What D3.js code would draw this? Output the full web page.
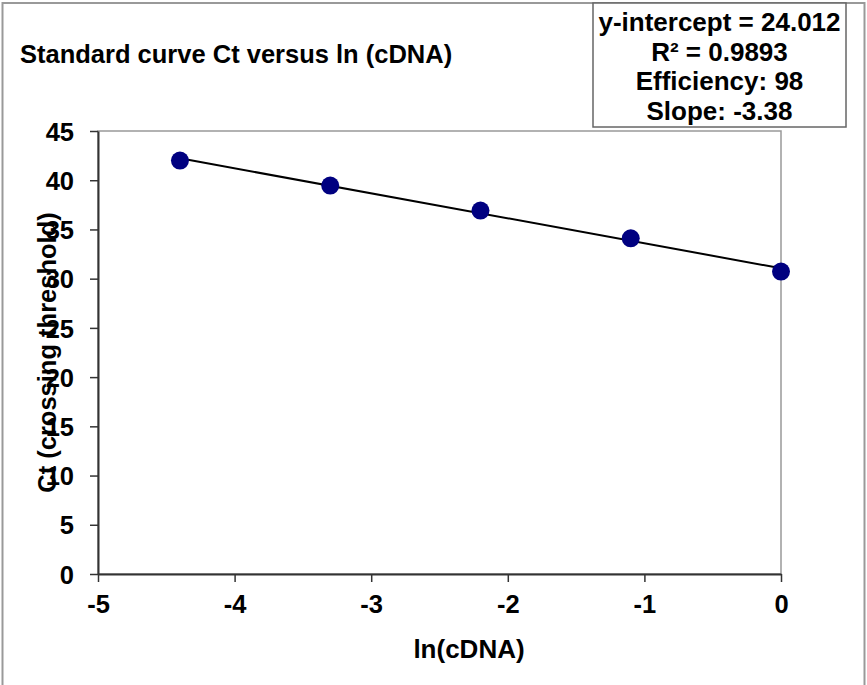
<!DOCTYPE html>
<html>
<head>
<meta charset="utf-8">
<script src="https://cdn.jsdelivr.net/npm/d3@7"></script>
<style>
  body { margin: 0; background: #fff; }
  text { font-family: "Liberation Sans", Arial, sans-serif; font-weight: bold; fill: #000; }
</style>
</head>
<body>
<script>
// data
var lnCDNA = [-4.4, -3.3, -2.2, -1.1, 0];
var ctValues = [42.0, 39.46, 36.92, 34.1, 30.72];
var xTicks = [-5, -4, -3, -2, -1, 0];
var yTicks = [0, 5, 10, 15, 20, 25, 30, 35, 40, 45];
var statLines = ["y-intercept = 24.012", "R\u00b2 = 0.9893", "Efficiency: 98", "Slope: -3.38"];

var W = 867, H = 685;
var margin = {top: 131, right: 86, bottom: 111, left: 98},
    width = W - margin.left - margin.right,
    height = H - margin.top - margin.bottom;

var svg = d3.select("body").append("svg")
    .attr("width", W)
    .attr("height", H);

// outer frame
svg.append("rect")
    .attr("x", 2.5).attr("y", 3)
    .attr("width", 862).attr("height", H + 10)
    .attr("fill", "none").attr("stroke", "#999").attr("stroke-width", 2);

svg.append("text")
    .attr("x", 20).attr("y", 63)
    .style("font-size", "25.5px")
    .text("Standard curve Ct versus ln (cDNA)");

// stats box
svg.append("rect")
    .attr("x", 593).attr("y", 3)
    .attr("width", 253).attr("height", 124)
    .attr("fill", "#fff").attr("stroke", "#666").attr("stroke-width", 1.5);

svg.selectAll(".stat")
    .data(statLines)
    .enter().append("text")
    .attr("class", "stat")
    .attr("x", 719.5)
    .attr("y", function(d, i) { return 31 + i * 29.5; })
    .attr("text-anchor", "middle")
    .style("font-size", "26px")
    .text(function(d) { return d; });

var g = svg.append("g")
    .attr("transform", "translate(" + margin.left + "," + margin.top + ")");

var x = d3.scaleLinear().domain([-5, 0]).range([0, width]);
var y = d3.scaleLinear().domain([0, 45]).range([height, 0]);

// plot area frame (top / right)
g.append("rect")
    .attr("width", width).attr("height", height)
    .attr("fill", "none").attr("stroke", "#999").attr("stroke-width", 1.5);

var yAxis = g.append("g")
    .call(d3.axisLeft(y).tickValues(yTicks).tickSize(8).tickPadding(16).tickSizeOuter(0));
var xAxis = g.append("g")
    .attr("transform", "translate(0," + height + ")")
    .call(d3.axisBottom(x).tickValues(xTicks).tickSize(8).tickPadding(13).tickSizeOuter(0)
        .tickFormat(d3.format("d")));

[xAxis, yAxis].forEach(function(a) {
    a.select(".domain").attr("stroke", "#333").attr("stroke-width", 2);
    a.selectAll(".tick line").attr("stroke", "#333").attr("stroke-width", 1.5);
    a.selectAll(".tick text")
        .style("font-size", "25.5px")
        .style("font-family", "'Liberation Sans', Arial, sans-serif")
        .style("font-weight", "bold")
        .attr("fill", "#000");
});
yAxis.selectAll(".tick text").attr("dy", "0.36em");
xAxis.selectAll(".tick text").text(function(d) { return d < 0 ? "-" + Math.abs(d) : d; });

// least squares trend line through the points
var mx = d3.mean(lnCDNA), my = d3.mean(ctValues);
var sxy = d3.sum(lnCDNA, function(v, i) { return (v - mx) * (ctValues[i] - my); });
var sxx = d3.sum(lnCDNA, function(v) { return (v - mx) * (v - mx); });
var slope = sxy / sxx, icpt = my - slope * mx;
var ends = d3.extent(lnCDNA);

g.append("line")
    .attr("x1", x(ends[0])).attr("y1", y(icpt + slope * ends[0]))
    .attr("x2", x(ends[1])).attr("y2", y(icpt + slope * ends[1]))
    .attr("stroke", "#000").attr("stroke-width", 2);

g.selectAll(".dot")
    .data(lnCDNA)
    .enter().append("circle")
    .attr("class", "dot")
    .attr("cx", function(d) { return x(d); })
    .attr("cy", function(d, i) { return y(ctValues[i]); })
    .attr("r", 9)
    .attr("fill", "#000080");

// axis titles
svg.append("text")
    .attr("x", 469).attr("y", 658)
    .attr("text-anchor", "middle")
    .style("font-size", "26px")
    .text("ln(cDNA)");

svg.append("text")
    .attr("transform", "translate(56," + (margin.top + height / 2) + ") rotate(-90)")
    .attr("text-anchor", "middle")
    .style("font-size", "25.5px")
    .text("Ct (crossing threshold)");
</script>
</body>
</html>
